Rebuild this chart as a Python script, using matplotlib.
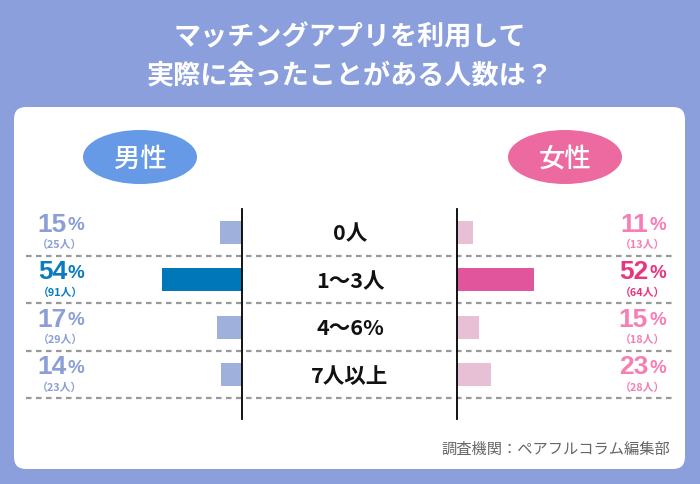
import matplotlib
matplotlib.use("Agg")
import matplotlib.pyplot as plt
from matplotlib.patches import Ellipse, FancyBboxPatch, Rectangle

plt.rcParams['font.family'] = ['Noto Sans CJK JP', 'DejaVu Sans']

# data
categories = ['0人', '1〜3人', '4〜6%', '7人以上']
male_pct = [15, 54, 17, 14]
male_n = [25, 91, 29, 23]
female_pct = [11, 52, 15, 23]
female_n = [13, 64, 18, 28]
title_lines = ['マッチングアプリを利用して', '実際に会ったことがある人数は？']
source = '調査機関：ペアフルコラム編集部'
highlight = 1

BG = '#8a9fdc'
fig = plt.figure(figsize=(7, 4.85), dpi=100, facecolor=BG)
ax = fig.add_axes([0, 0, 1, 1])
ax.set_xlim(0, 700)
ax.set_ylim(485, 0)
ax.axis('off')

# title
ax.text(350, 37, title_lines[0], ha='center', va='center', color='white',
        fontsize=19.5, fontweight='bold')
ax.text(350, 75, title_lines[1], ha='center', va='center', color='white',
        fontsize=19.5, fontweight='bold')

# white panel
ax.add_patch(FancyBboxPatch((14, 108), 671, 362,
                            boxstyle='round,pad=0,rounding_size=12',
                            fc='white', ec='none'))

# gender ovals
ax.add_patch(Ellipse((140, 158), 114, 54, fc='#6699e6', ec='none'))
ax.text(140, 159, '男性', ha='center', va='center', color='white',
        fontsize=19, fontweight='medium')
ax.add_patch(Ellipse((565, 158), 114, 54, fc='#ec6a9f', ec='none'))
ax.text(565, 159, '女性', ha='center', va='center', color='white',
        fontsize=19, fontweight='medium')

y0, step = 233, 47.5
rows = [y0 + i * step for i in range(len(categories))]
scale = 1.49  # px per %
lx, rx = 242, 457

# highlight band
ax.add_patch(Rectangle((26, rows[highlight] - step / 2), 653, step,
                       fc='#fdeffb', ec='none', zorder=0.5))

# separators
for y in rows:
    ax.plot([26, 676], [y + step / 2, y + step / 2], color='#999999', lw=1.6,
            ls=(0, (2.5, 2)), zorder=1)

m_cols = ['#0077b8' if i == highlight else '#9fb0dd' for i in range(len(rows))]
f_cols = ['#e0559c' if i == highlight else '#e8c0d6' for i in range(len(rows))]
ax.barh(rows, [-p * scale for p in male_pct], left=lx, height=23,
        color=m_cols, zorder=2)
ax.barh(rows, [p * scale for p in female_pct], left=rx, height=23,
        color=f_cols, zorder=2)

ax.plot([lx, lx], [210, 420], color='black', lw=1.3, zorder=3)
ax.plot([rx, rx], [210, 420], color='black', lw=1.3, zorder=3)

num_font = ['Liberation Sans', 'Noto Sans CJK JP']
for i, y in enumerate(rows):
    ax.text(350, y + 1, categories[i], ha='center', va='center', color='#111111',
            fontsize=15.5, fontweight='bold')

    mc = '#0a7bc0' if i == highlight else '#8b9fd6'
    ax.text(67, y - 8, str(male_pct[i]), ha='right', va='center', color=mc,
            fontsize=19, fontweight='bold', family=num_font)
    ax.text(68, y - 7, '%', ha='left', va='center', color=mc,
            fontsize=13.5, fontweight='bold', family=num_font)
    ax.text(60, y + 12, '（%d人）' % male_n[i], ha='center', va='center', color=mc,
            fontsize=7.8, fontweight='bold')

    fc = '#e8357f' if i == highlight else '#f57fb5'
    ax.text(648, y - 8, str(female_pct[i]), ha='right', va='center', color=fc,
            fontsize=19, fontweight='bold', family=num_font)
    ax.text(649, y - 7, '%', ha='left', va='center', color=fc,
            fontsize=13.5, fontweight='bold', family=num_font)
    ax.text(643, y + 12, '（%d人）' % female_n[i], ha='center', va='center', color=fc,
            fontsize=7.8, fontweight='bold')

ax.text(670, 449, source, ha='right', va='center', color='#666666', fontsize=11)

fig.savefig('out.png', dpi=100, facecolor=BG)
